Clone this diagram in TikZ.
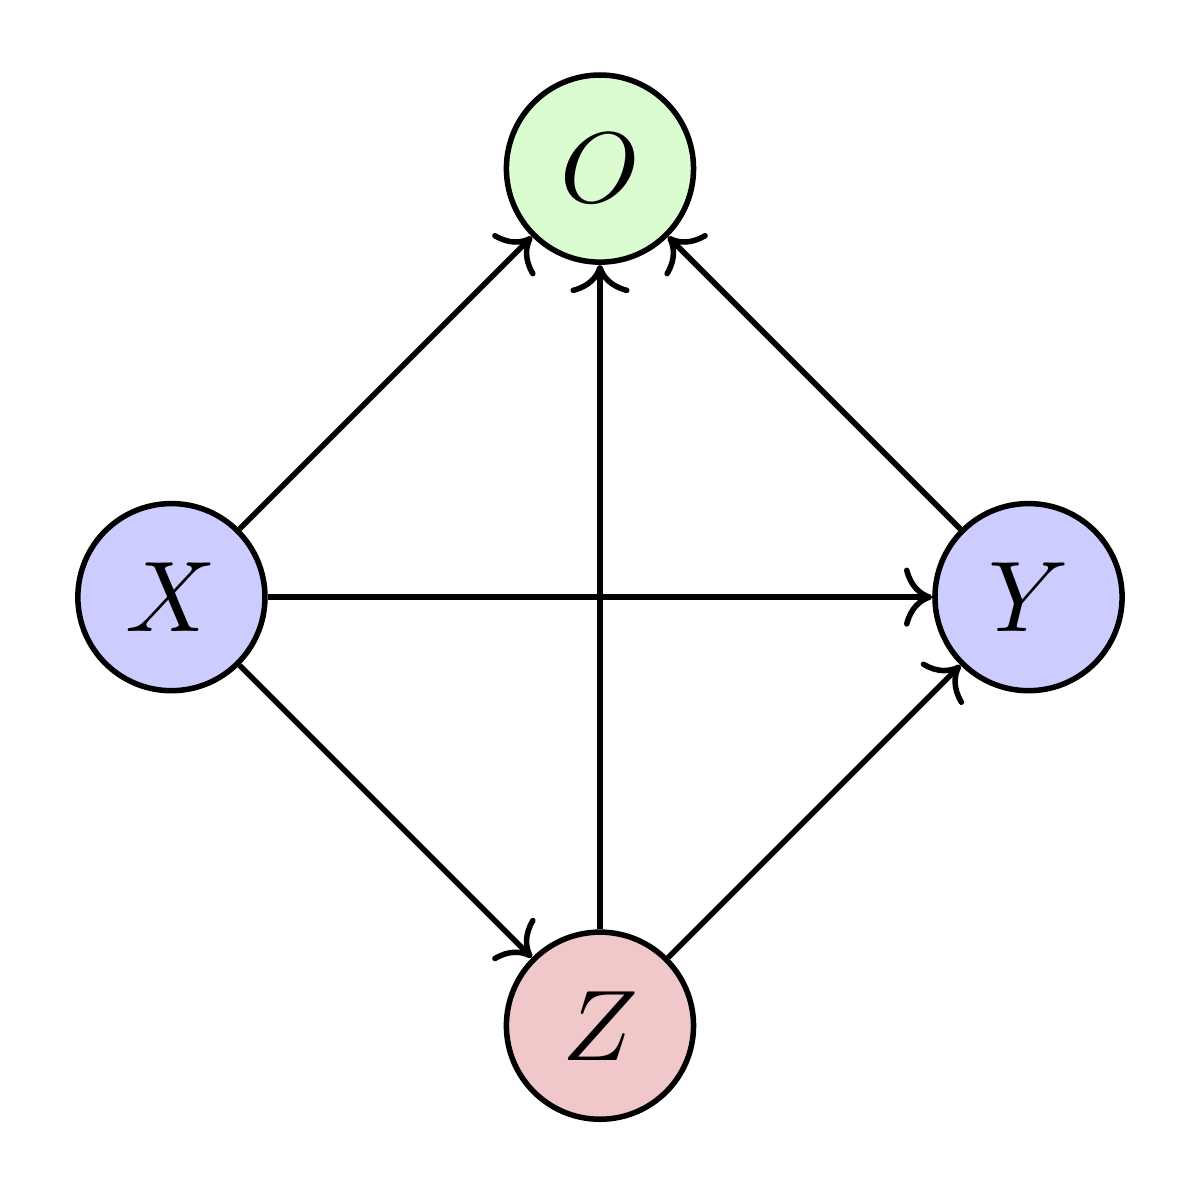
\documentclass[tikz,border=0pt]{standalone}
\usetikzlibrary{arrows.meta}

\definecolor{ogreen}{RGB}{218,252,208}
\definecolor{xyblue}{RGB}{204,204,255}
\definecolor{zred}{RGB}{240,200,202}

\begin{document}
\begin{tikzpicture}[line width=.55pt]

      \useasboundingbox (-0.6,-2.09) rectangle (3.6,2.09);

      \begin{scope}[every node/.style={circle,draw,minimum size=.655cm,inner sep=0pt}]
        \node[fill=ogreen] (O) at (1.5,1.5)  {$O$};
        \node[fill=xyblue] (X) at (0,0)      {$X$};
        \node[fill=xyblue] (Y) at (3,0)      {$Y$};
        \node[fill=zred]   (Z) at (1.5,-1.5) {$Z$};
      \end{scope}

      \begin{scope}[every edge/.style={draw,-{To}}]
        \path (X) edge (O);
        \path (X) edge (Y);
        \path (X) edge (Z);
        \path (Z) edge (O);
        \path (Z) edge (Y);
        \path (Y) edge (O);
      \end{scope}

    \end{tikzpicture}
\end{document}
